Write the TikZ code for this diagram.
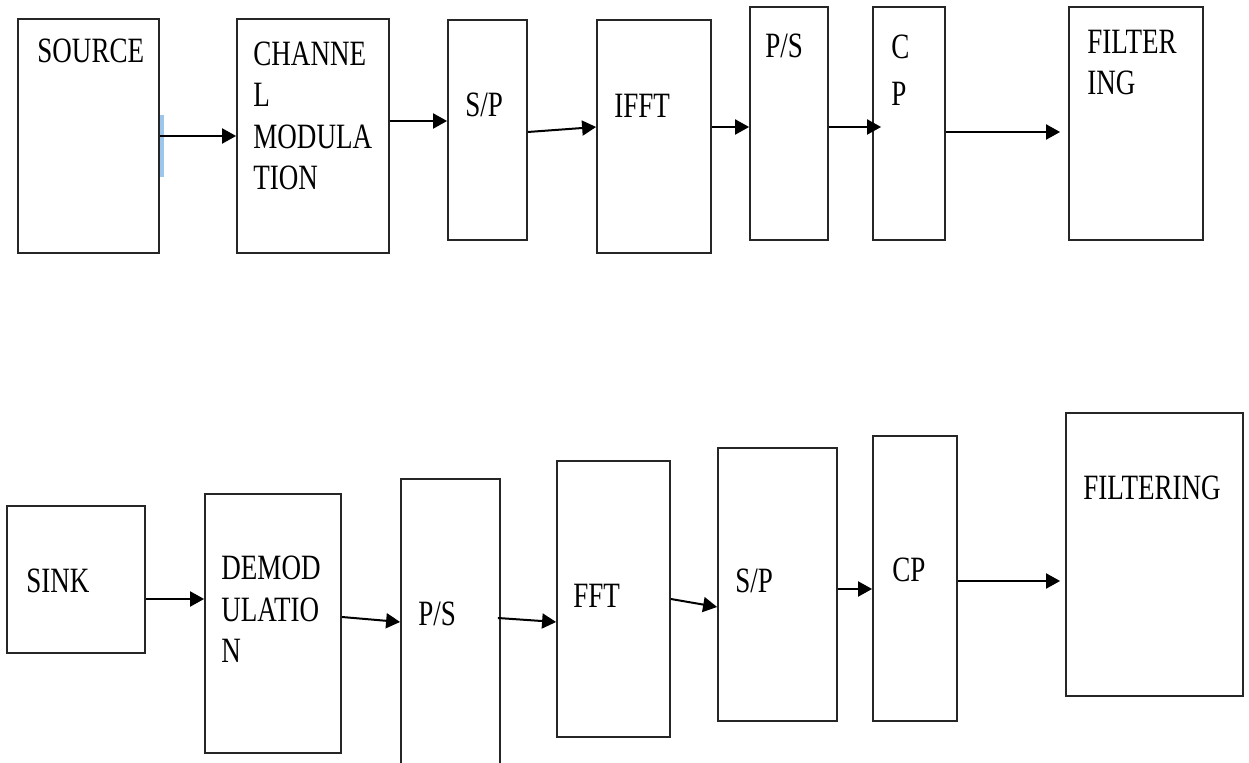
\documentclass[tikz,border=0pt]{standalone}
\usepackage{fontspec}
\setmainfont{Liberation Serif}[FakeStretch=0.76]
\usepackage{xcolor}
\usetikzlibrary{arrows.meta}
\definecolor{markblue}{RGB}{158,198,235}

\begin{document}
\begin{tikzpicture}[
  x=0.5pt, y=-0.5pt,
  blk/.style 2 args={
    rectangle, draw=black!85, line width=0.9pt,
    minimum width=#1*0.5pt, minimum height=#2*0.5pt,
    inner sep=0pt
  },
  txt/.style={
    anchor=base west, inner sep=0pt, align=left,
    font=\fontsize{17.8}{20.8}\selectfont
  },
  arrow/.style={-{Triangle[length=7pt, width=7.5pt]}, line width=1pt, black}
]
\useasboundingbox (0,0) rectangle (1249,763);
\clip (0,0) rectangle (1249,763);

% Transmitter chain (top row)
\node[blk={141}{234}] (src)   at (88.5, 136)   {};
\node[blk={152}{234}] (chan)  at (313, 136)    {};
\node[blk={79}{220}]  (sp1)   at (487.5, 130)  {};
\node[blk={114}{233}] (ifft)  at (654, 136.5)  {};
\node[blk={78}{233}]  (ps1)   at (789, 123.5)  {};
\node[blk={72}{233}]  (cp1)   at (909, 123.5)  {};
\node[blk={134}{233}] (filt1) at (1136, 123.5) {};

% (base of a multi-line label = its last line)
\node[txt] (srctxt)   at (37, 63)   {SOURCE};
\node[txt] (chantxt)  at (253, 190) {CHANNE\\L\\MODULA\\TION};
\node[txt] (sp1txt)   at (465, 117) {S/P};
\node[txt] (iffttxt)  at (614, 118) {IFFT};
\node[txt] (ps1txt)   at (765, 58)  {P/S};
\node[txt] (cp1txt)   at (891, 106) {C\\[3pt]P};
\node[txt] (filt1txt) at (1087, 95) {FILTER\\ING};

% Receiver chain (bottom row)
\node[blk={138}{147}] (sink)  at (76, 579.5)    {};
\node[blk={136}{259}] (demod) at (273, 623.5)   {};
\node[blk={99}{291}]  (ps2)   at (450.5, 624.5) {};
\node[blk={113}{276}] (fft)   at (613.5, 599)   {};
\node[blk={119}{273}] (sp2)   at (777.5, 584.5) {};
\node[blk={84}{285}]  (cp2)   at (915, 578.5)   {};
\node[blk={177}{283}] (filt2) at (1154.5, 554.5) {};

\node[txt] (sinktxt)  at (26, 593)   {SINK};
\node[txt] (demodtxt) at (221, 663)  {DEMOD\\ULATIO\\N};
\node[txt] (ps2txt)   at (418, 626)  {P/S};
\node[txt] (ffttxt)   at (573, 608)  {FFT};
\node[txt] (sp2txt)   at (735, 593)  {S/P};
\node[txt] (cp2txt)   at (892, 582)  {CP};
\node[txt] (filt2txt) at (1083, 500) {FILTERING};

% small blue mark beside the source box
\fill[markblue] (160,115) rectangle (164,177);

% Arrows, top row
\draw[arrow] (src.east) -- (chan.west);
\draw[arrow] ([yshift=7.5pt]chan.east) -- ([yshift=4.5pt]sp1.west);
\draw[arrow] ([yshift=-1pt]sp1.east) -- ([yshift=4.75pt]ifft.west);
\draw[arrow] ([yshift=4.75pt]ifft.east) -- ([yshift=-1.75pt]ps1.west);
\draw[arrow] ([yshift=-1.75pt]ps1.east) -- ([xshift=4.5pt, yshift=-1.75pt]cp1.west);
\draw[arrow] ([yshift=-4.25pt]cp1.east) -- ([xshift=-4pt, yshift=-4.25pt]filt1.west);

% Arrows, bottom row
\draw[arrow] ([yshift=-9.75pt]sink.east) -- ([yshift=12.25pt]demod.west);
\draw[arrow] ([yshift=3.25pt]demod.east) -- ([yshift=1.25pt]ps2.west);
\draw[arrow] ([xshift=-1.5pt, yshift=3.25pt]ps2.east) -- ([yshift=-11.5pt]fft.west);
\draw[arrow] (fft.east) -- ([yshift=-11.25pt]sp2.west);
\draw[arrow] ([yshift=-2.25pt]sp2.east) -- ([yshift=-5.25pt]cp2.west);
\draw[arrow] ([yshift=-1.25pt]cp2.east) -- ([xshift=-2.5pt, yshift=-13.25pt]filt2.west);

\end{tikzpicture}
\end{document}
